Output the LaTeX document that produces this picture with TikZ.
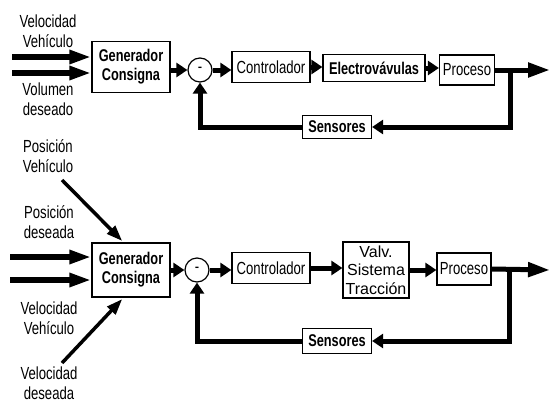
\documentclass[tikz,border=0pt]{standalone}
\usepackage{fontspec}
\setmainfont{Liberation Sans}
\newfontfamily\narrowsf[FakeStretch=0.75]{Liberation Sans}
\usetikzlibrary{arrows.meta}

\tikzset{
  blk/.style={draw, line width=1.2pt, inner sep=1pt, align=center},
  bfblk/.style={blk, font=\narrowsf\bfseries\fontsize{17}{19}\selectfont},
  sumnode/.style={circle, draw, line width=1.2pt, minimum size=24pt, inner sep=0pt},
  lbl/.style={align=center},
  flow/.style={line width=5pt, -{Triangle[length=11pt,width=14pt]}},
  outflow/.style={line width=5pt, -{Triangle[length=22pt,width=14pt]}},
  inflow/.style={line width=5.5pt, -{Triangle[length=22pt,width=13pt]}},
  diagflow/.style={line width=3.5pt, -{Triangle[length=16pt,width=11pt]}},
}

\begin{document}
\begin{tikzpicture}[x=1pt, y=-1pt, every node/.style={font=\narrowsf\fontsize{17.5}{20.5}\selectfont}]
\useasboundingbox (0,0) rectangle (551,402);
% upper loop
\node[lbl] (vv1) at (48,31) {Velocidad\\Vehículo};
\node[lbl] (vd1) at (48,99) {Volumen\\deseado};
\node[bfblk, minimum width=78pt, minimum height=51pt] (gen1) at (131,67) {Generador\\Consigna};
\node[sumnode] (sum1) at (200,70) {-};
\node[blk, minimum width=78pt, minimum height=31pt] (ctrl1) at (271,67) {Controlador};
\node[bfblk, minimum width=102pt, minimum height=27pt] (ev1) at (374,68) {Electrovávulas};
\node[blk, minimum width=55pt, minimum height=30pt] (proc1) at (467,70) {Proceso};
\node[bfblk, minimum width=69pt, minimum height=23pt] (sens1) at (337,127) {Sensores};
\coordinate (out1) at (550,70);
\coordinate (br1) at (510,70);
\foreach \y/\n in {57/a,73/b} {
  \coordinate (in1\n) at (12,\y);
  \draw[inflow] (in1\n) -- (in1\n -| gen1.west);
}
\draw[flow] (gen1.east |- sum1) -- (sum1.west);
\draw[flow] (sum1.east) -- (ctrl1.west |- sum1);
\draw[flow] (ctrl1.east) -- (ev1.west |- ctrl1);
\draw[flow] (ev1.east) -- (proc1.west |- ev1);
\draw[outflow] (proc1.east) -- (out1);
\draw[flow] (br1) |- (sens1.east);
\draw[flow] (sens1.west) -| (sum1.south);
% lower loop
\node[lbl] (pv2) at (48,156) {Posición\\Vehículo};
\node[lbl] (pd2) at (49,222) {Posición\\deseada};
\node[lbl] (vv2) at (49,318) {Velocidad\\Vehículo};
\node[lbl] (vd2) at (49,383) {Velocidad\\deseada};
\node[bfblk, minimum width=78pt, minimum height=54pt] (gen2) at (131,270) {Generador\\Consigna};
\node[sumnode] (sum2) at (197,270) {-};
\node[blk, minimum width=78pt, minimum height=31pt] (ctrl2) at (271,268) {Controlador};
\node[blk, minimum width=66pt, minimum height=56pt, font=\fontsize{16}{18.5}\selectfont] (valv2) at (376,270) {Valv.\\Sistema\\Tracción};
\node[blk, minimum width=54pt, minimum height=32pt] (proc2) at (464,269) {Proceso};
\node[bfblk, minimum width=69pt, minimum height=25pt] (sens2) at (337,341) {Sensores};
\coordinate (out2) at (550,270);
\coordinate (br2) at (509,270);
\coordinate (d2a) at (62,180);
\coordinate (d2b) at (62,363);
\foreach \y/\n in {257/a,280/b} {
  \coordinate (in2\n) at (10,\y);
  \draw[inflow] (in2\n) -- (in2\n -| gen2.west);
}
\draw[diagflow, shorten >=2pt] (d2a) -- (gen2.105);
\draw[diagflow, shorten >=2pt] (d2b) -- (gen2.255);
\draw[flow] (gen2.east |- sum2) -- (sum2.west);
\draw[flow] (sum2.east) -- (ctrl2.west |- sum2);
\draw[flow] (ctrl2.east) -- (valv2.west |- ctrl2);
\draw[flow] (valv2.east) -- (proc2.west |- valv2);
\draw[outflow] (proc2.east) -- (out2);
\draw[flow] (br2) |- (sens2.east);
\draw[flow] (sens2.west) -| (sum2.south);
\end{tikzpicture}
\end{document}
